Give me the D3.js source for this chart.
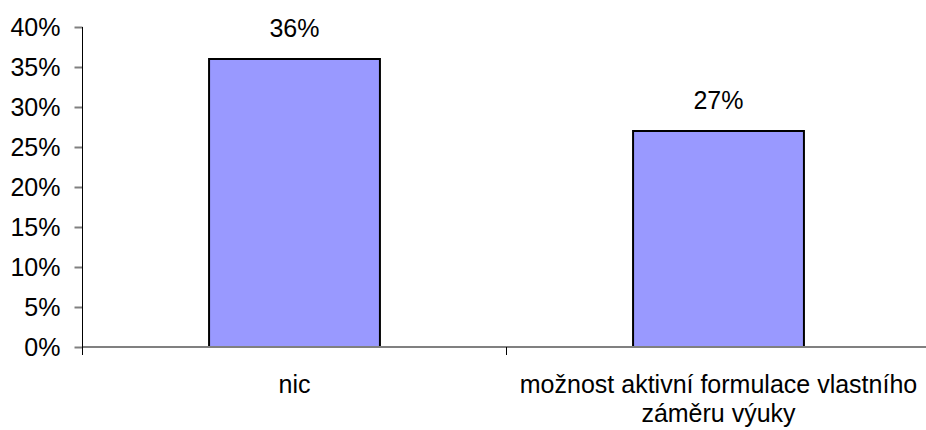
<!DOCTYPE html>
<html>
<head>
<meta charset="utf-8">
<script src="https://cdn.jsdelivr.net/npm/d3@7"></script>
<style>
  html, body { margin: 0; padding: 0; background: #fff; }
  svg { display: block; font-family: "Liberation Sans", Arial, sans-serif; }
</style>
</head>
<body>
<svg id="chart" width="926" height="430"></svg>
<script>
// Category names (each entry is a list of lines) and their shares
const categories = [["nic"], ["možnost aktivní formulace vlastního", "záměru výuky"]];
const values = [0.36, 0.27];
const yTicks = [0, 0.05, 0.10, 0.15, 0.20, 0.25, 0.30, 0.35, 0.40];

const svg = d3.select("#chart");
const fontSize = 25;
const plotLeft = 82.5, plotRight = 930.5, plotTop = 27, plotBottom = 347;

const x = d3.scaleBand()
  .domain(d3.range(categories.length))
  .range([plotLeft, plotRight])
  .paddingInner(0)
  .paddingOuter(0);

const y = d3.scaleLinear().domain([0, 0.4]).range([plotBottom, plotTop]);
const fmt = d3.format(".0%");

// bars
const barW = x.bandwidth() * 0.403;
svg.append("g").selectAll("rect")
  .data(values)
  .join("rect")
  .attr("x", (d, i) => x(i) + x.bandwidth() / 2 - barW / 2)
  .attr("y", d => y(d))
  .attr("width", barW)
  .attr("height", d => y(0) - y(d))
  .attr("fill", "#9999ff")
  .attr("stroke", "#000")
  .attr("stroke-width", 2);

// x axis baseline (gray) with category separators
svg.append("line")
  .attr("x1", plotLeft).attr("x2", 926)
  .attr("y1", y(0)).attr("y2", y(0))
  .attr("stroke", "#808080").attr("stroke-width", 2);

svg.append("g").selectAll("line")
  .data(d3.range(1, categories.length))
  .join("line")
  .attr("x1", i => x(i)).attr("x2", i => x(i))
  .attr("y1", y(0)).attr("y2", y(0) + 8)
  .attr("stroke", "#000").attr("stroke-width", 1);

// y axis
const yAxis = svg.append("g")
  .attr("transform", `translate(${plotLeft},0)`)
  .call(d3.axisLeft(y).tickValues(yTicks).tickFormat(fmt).tickSize(8).tickPadding(14));
yAxis.select(".domain").remove();
yAxis.selectAll(".tick line").attr("stroke", "#808080").attr("stroke-width", 2);
yAxis.selectAll(".tick text")
  .attr("font-size", fontSize)
  .attr("font-family", "Liberation Sans, Arial, sans-serif")
  .attr("fill", "#000");
svg.append("line")
  .attr("x1", plotLeft).attr("x2", plotLeft)
  .attr("y1", plotTop).attr("y2", y(0) + 8)
  .attr("stroke", "#000").attr("stroke-width", 1);

// value labels
svg.append("g").selectAll("text")
  .data(values)
  .join("text")
  .attr("x", (d, i) => x(i) + x.bandwidth() / 2)
  .attr("y", d => y(d) - 22)
  .attr("text-anchor", "middle")
  .attr("font-size", fontSize)
  .attr("fill", "#000")
  .text(d => fmt(d));

// category labels
const cat = svg.append("g").selectAll("text")
  .data(categories)
  .join("text")
  .attr("x", (d, i) => x(i) + x.bandwidth() / 2)
  .attr("y", 393)
  .attr("text-anchor", "middle")
  .attr("font-size", fontSize)
  .attr("fill", "#000");
cat.selectAll("tspan")
  .data((d, i) => d.map(s => ({ s, i })))
  .join("tspan")
  .attr("x", d => x(d.i) + x.bandwidth() / 2)
  .attr("dy", (d, j) => j === 0 ? 0 : 29)
  .text(d => d.s);
</script>
</body>
</html>
